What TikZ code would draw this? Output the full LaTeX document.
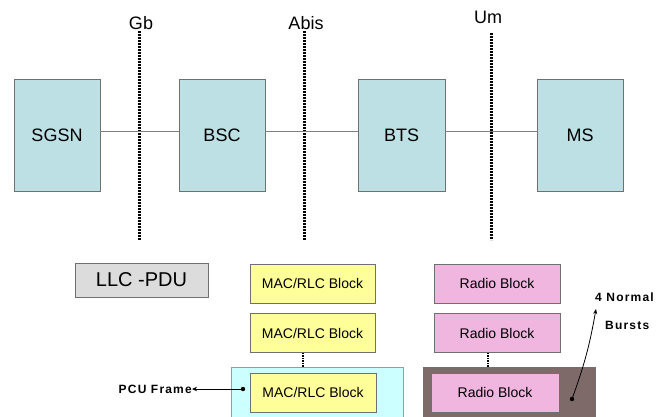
\documentclass[tikz,border=0pt]{standalone}
\usepackage{fontspec}
\setmainfont{Liberation Sans}
\newfontfamily\lblfont[LetterSpace=10]{Liberation Sans}
\usetikzlibrary{arrows.meta}
\definecolor{teal1}{HTML}{BCE0E3}
\definecolor{llcgray}{HTML}{DCDCDC}
\definecolor{yel}{HTML}{FFFF99}
\definecolor{cyanf}{HTML}{CCFFFF}
\definecolor{pinkb}{HTML}{F0B6E0}
\definecolor{brownf}{HTML}{7F6A6A}
\definecolor{edge}{HTML}{707070}
\tikzset{
  netbox/.style={draw=edge, line width=0.8pt, fill=teal1, minimum width=86pt, minimum height=112pt, inner sep=0pt, font=\fontsize{18}{20}\selectfont},
  iface/.style={line width=3pt, dash pattern=on 2pt off 1pt},
  ifacelabel/.style={font=\fontsize{18}{20}\selectfont, inner sep=0pt},
  link/.style={draw=gray, line width=0.8pt},
  macbox/.style={draw=edge, line width=0.8pt, fill=yel, minimum width=125pt, minimum height=39pt, inner sep=0pt, font=\fontsize{14}{16}\selectfont},
  radbox/.style={draw=edge, line width=0.8pt, fill=pinkb, minimum width=126pt, minimum height=39pt, inner sep=0pt, font=\fontsize{14}{16}\selectfont},
  smalllab/.style={font=\lblfont\fontsize{12}{14}\selectfont\bfseries, inner sep=0pt},
  dotconn/.style={line width=1.4pt, dash pattern=on 1.5pt off 1pt},
}
\begin{document}
\begin{tikzpicture}[x=1pt,y=-1pt]
\useasboundingbox (0,0) rectangle (658,416);
% interfaces
\coordinate (gbtop) at (139,31);
\coordinate (gbbot) at (139,240);
\coordinate (abtop) at (304,31);
\coordinate (abbot) at (304,240);
\coordinate (umtop) at (491,33);
\coordinate (umbot) at (491,240);
\draw[iface] (gbtop) -- (gbbot);
\draw[iface] (abtop) -- (abbot);
\draw[iface] (umtop) -- (umbot);
\node[ifacelabel] (gb) at (141,23) {Gb};
\node[ifacelabel] (abis) at (306,23) {Abis};
\node[ifacelabel] (um) at (488,17) {Um};
% network boxes
\node[netbox] (sgsn) at (57,135) {SGSN};
\node[netbox] (bsc) at (222,135) {BSC};
\node[netbox, minimum width=87pt] (bts) at (401.5,135) {BTS};
\node[netbox] (ms) at (580,135) {MS};
\draw[link] ([yshift=4pt]sgsn.east) -- ([yshift=4pt]bsc.west);
\draw[link] ([yshift=4pt]bsc.east) -- ([yshift=4pt]bts.west);
\draw[link] ([yshift=4pt]bts.east) -- ([yshift=4pt]ms.west);
% LLC-PDU
\node[draw=edge, line width=0.8pt, fill=llcgray, minimum width=133pt, minimum height=34pt, inner sep=0pt, font=\fontsize{20}{22}\selectfont] (llc) at (141.5,280) {LLC -PDU};
% MAC/RLC column
\node[macbox] (mac1) at (312.5,283.5) {MAC/RLC Block};
\node[macbox] (mac2) at (312.5,333) {MAC/RLC Block};
\node[draw=edge!70, line width=0.8pt, fill=cyanf, minimum width=172pt, minimum height=56pt, inner sep=0pt] (pcuf) at (317,395) {};
\node[macbox, minimum width=126pt] (mac3) at (313,392.5) {MAC/RLC Block};
\draw[dotconn] ([xshift=-9.5pt]mac2.south) -- ([xshift=-9.5pt]mac2.south |- pcuf.north);
% PCU frame label
\node[smalllab, anchor=east] (pcu) at (192,389) {PCU Frame};
\coordinate (pcudot) at (243,389);
\draw[line width=1pt, -{Stealth[length=5pt,width=4.5pt]}] (pcudot) -- (pcu.east);
\fill (pcudot) circle (2.2pt);
% Radio column
\node[radbox] (rad1) at (497,283.5) {Radio Block};
\node[radbox] (rad2) at (497,333) {Radio Block};
\node[draw=edge, line width=0.8pt, fill=brownf, minimum width=172pt, minimum height=56pt, inner sep=0pt] (burstf) at (509,395) {};
\node[radbox, minimum width=128pt] (rad3) at (495,392.5) {Radio Block};
\draw[dotconn] ([xshift=-9pt]rad2.south) -- ([xshift=-9pt]rad2.south |- burstf.north);
% 4 Normal Bursts
\node[smalllab, anchor=west] (norm) at (595,297) {4 Normal};
\node[smalllab, anchor=west] (bursts) at (605,325) {Bursts};
\coordinate (burstdot) at (572,399);
\coordinate (burstarrow) at (596,309);
\draw[line width=0.8pt, -{Stealth[length=5pt,width=4pt]}] (burstdot) to[bend right=5] (burstarrow);
\fill (burstdot) circle (2.2pt);
\end{tikzpicture}
\end{document}
